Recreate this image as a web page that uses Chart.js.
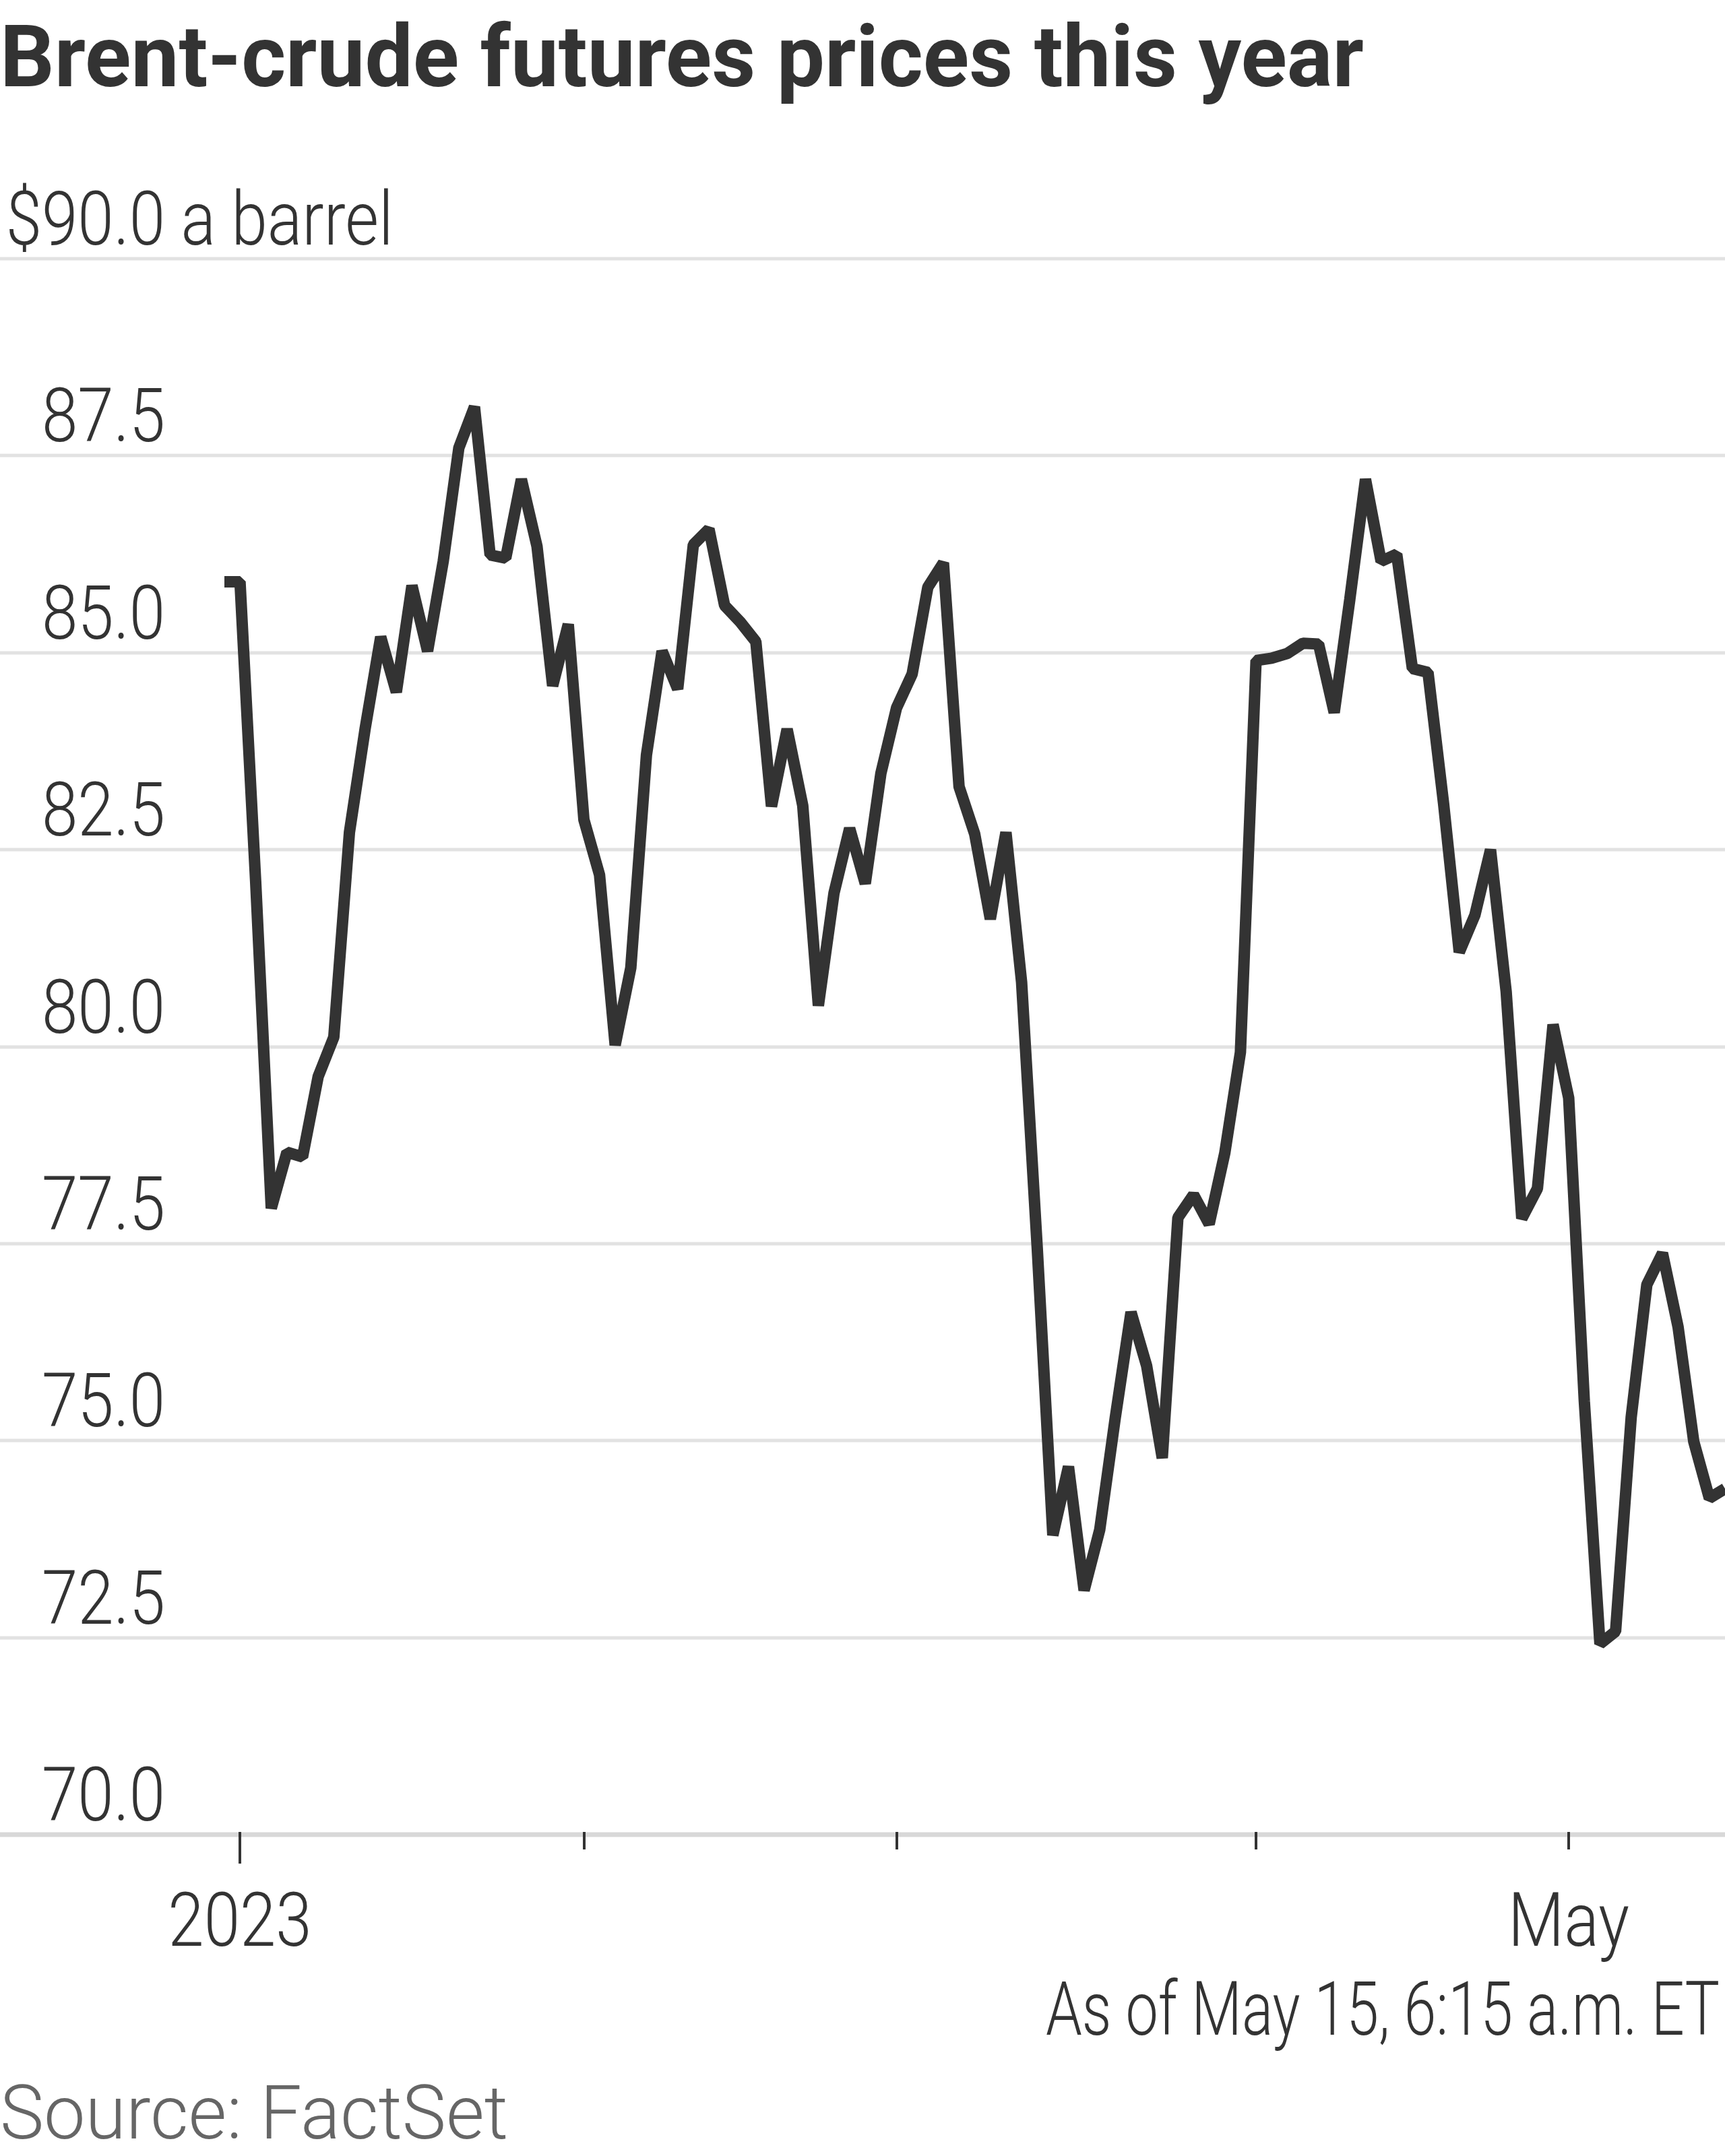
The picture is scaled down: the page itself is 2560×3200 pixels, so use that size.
<!DOCTYPE html>
<html>
<head>
<meta charset="utf-8">
<script src="https://cdn.jsdelivr.net/npm/chart.js@4.4.0/dist/chart.umd.min.js"></script>
<style>
  html, body { margin: 0; padding: 0; background: #fff; }
  #wrap { position: relative; width: 2560px; height: 3200px; }
</style>
</head>
<body>
<div id="wrap"><canvas id="brentChart"></canvas></div>
<script>
// Trading days (weekdays) from the last session of 2022 to May 15
const dates = [
    '2022-12-30',
    '2023-01-02', '2023-01-03', '2023-01-04', '2023-01-05', '2023-01-06',
    '2023-01-09', '2023-01-10', '2023-01-11', '2023-01-12', '2023-01-13',
    '2023-01-16', '2023-01-17', '2023-01-18', '2023-01-19', '2023-01-20',
    '2023-01-23', '2023-01-24', '2023-01-25', '2023-01-26', '2023-01-27',
    '2023-01-30', '2023-01-31',
    '2023-02-01', '2023-02-02', '2023-02-03',
    '2023-02-06', '2023-02-07', '2023-02-08', '2023-02-09', '2023-02-10',
    '2023-02-13', '2023-02-14', '2023-02-15', '2023-02-16', '2023-02-17',
    '2023-02-20', '2023-02-21', '2023-02-22', '2023-02-23', '2023-02-24',
    '2023-02-27', '2023-02-28',
    '2023-03-01', '2023-03-02', '2023-03-03',
    '2023-03-06', '2023-03-07', '2023-03-08', '2023-03-09', '2023-03-10',
    '2023-03-13', '2023-03-14', '2023-03-15', '2023-03-16', '2023-03-17',
    '2023-03-20', '2023-03-21', '2023-03-22', '2023-03-23', '2023-03-24',
    '2023-03-27', '2023-03-28', '2023-03-29', '2023-03-30', '2023-03-31',
    '2023-04-03', '2023-04-04', '2023-04-05', '2023-04-06', '2023-04-07',
    '2023-04-10', '2023-04-11', '2023-04-12', '2023-04-13', '2023-04-14',
    '2023-04-17', '2023-04-18', '2023-04-19', '2023-04-20', '2023-04-21',
    '2023-04-24', '2023-04-25', '2023-04-26', '2023-04-27', '2023-04-28',
    '2023-05-01', '2023-05-02', '2023-05-03', '2023-05-04', '2023-05-05',
    '2023-05-08', '2023-05-09', '2023-05-10', '2023-05-11', '2023-05-12',
    '2023-05-15'
];

// Brent-crude futures, $ a barrel
const prices = [
    85.90,
    85.90, 82.10, 77.95, 78.66, 78.60,
    79.62, 80.12, 82.72, 84.03, 85.20,
    84.50, 85.85, 85.02, 86.16, 87.60,
    88.12, 86.24, 86.20, 87.20, 86.35,
    84.58, 85.36,
    82.88, 82.18, 80.02,
    81.00, 83.70, 85.02, 84.54, 86.37,
    86.57, 85.60, 85.39, 85.14, 83.05,
    84.03, 83.06, 80.52, 81.95, 82.77,
    82.07, 83.47,
    84.30, 84.73, 85.83,
    86.14, 83.30, 82.70, 81.62, 82.72,
    80.82, 77.45, 73.80, 74.67, 73.10,
    73.87, 75.30, 76.63, 75.95, 74.78,
    77.83, 78.12, 77.75, 78.65, 79.93,
    84.90, 84.93, 84.99, 85.12, 85.11,
    84.24, 85.68, 87.20, 86.16, 86.25,
    84.80, 84.75, 83.08, 81.20, 81.67,
    82.50, 80.70, 77.82, 78.20, 80.28,
    79.35, 75.50, 72.42, 72.58, 75.30,
    76.98, 77.38, 76.44, 74.99, 74.27,
    74.39
];

const yTicks = [70, 72.5, 75, 77.5, 80, 82.5, 85, 87.5, 90];
const xTickDates = ['2023-01-02', '2023-02-01', '2023-03-01', '2023-04-03', '2023-05-01'];
const xTickLabels = ['2023', '', '', '', 'May'];

const TEXT = '#333333';

function drawScaled(ctx, text, x, y, font, color, sx, align) {
    ctx.save();
    ctx.font = font;
    ctx.fillStyle = color;
    ctx.textAlign = align || 'left';
    ctx.textBaseline = 'alphabetic';
    ctx.translate(x, y);
    ctx.scale(sx, 1);
    ctx.fillText(text, 0, 0);
    ctx.restore();
}

function fitScale(ctx, text, font, width) {
    ctx.save();
    ctx.font = font;
    const w = ctx.measureText(text).width;
    ctx.restore();
    return width / w;
}

const decor = {
    id: 'decor',
    beforeDatasetsDraw(chart) {
        const { ctx, scales: { y } } = chart;
        ctx.save();
        yTicks.forEach(v => {
            const py = Math.round(y.getPixelForValue(v));
            const isBase = v === yTicks[0];
            ctx.strokeStyle = isBase ? '#d8d8d8' : '#e2e2e2';
            ctx.lineWidth = isBase ? 7 : 5;
            ctx.beginPath();
            ctx.moveTo(0, py);
            ctx.lineTo(chart.width, py);
            ctx.stroke();
        });
        ctx.restore();
    },
    afterDraw(chart) {
        const { ctx, scales: { x, y } } = chart;
        const labelFont = '300 112px Roboto';
        const sx = fitScale(ctx, '87.5', labelFont, 183);

        // y labels sit just above their gridline
        yTicks.forEach(v => {
            const py = y.getPixelForValue(v) - 21;
            const txt = v.toFixed(1);
            if (v === yTicks[yTicks.length - 1]) {
                drawScaled(ctx, '$' + txt, 245, py, labelFont, TEXT, sx, 'right');
                drawScaled(ctx, ' a barrel', 245, py, labelFont, TEXT, sx, 'left');
            } else {
                drawScaled(ctx, txt, 245, py, labelFont, TEXT, sx, 'right');
            }
        });

        // month ticks, the year one longer
        const base = y.getPixelForValue(yTicks[0]);
        ctx.save();
        ctx.strokeStyle = TEXT;
        ctx.lineWidth = 4;
        xTickDates.forEach((d, i) => {
            const px = Math.round(x.getPixelForValue(dates.indexOf(d)));
            ctx.beginPath();
            ctx.moveTo(px, base - 4);
            ctx.lineTo(px, base + (i === 0 ? 43 : 22));
            ctx.stroke();
            if (xTickLabels[i]) {
                drawScaled(ctx, xTickLabels[i], px, 2888, labelFont, TEXT, sx, 'center');
            }
        });
        ctx.restore();

        // title
        const titleFont = '700 128px Roboto';
        const title = 'Brent-crude futures prices this year';
        drawScaled(ctx, title, 0, 128, titleFont, TEXT, fitScale(ctx, title, titleFont, 2024), 'left');

        // notes
        const asOf = 'As of May 15, 6:15 a.m. ET';
        drawScaled(ctx, asOf, 2552, 3020, labelFont, TEXT, fitScale(ctx, asOf, labelFont, 1000), 'right');
        const src = 'Source: FactSet';
        drawScaled(ctx, src, 0, 3174, labelFont, '#666666', fitScale(ctx, src, labelFont, 754), 'left');
    }
};

new Chart(document.getElementById('brentChart'), {
    type: 'line',
    data: {
        labels: dates,
        datasets: [{
            data: prices,
            borderColor: '#333333',
            borderWidth: 17,
            borderJoinStyle: 'bevel',
            pointRadius: 0,
            pointHoverRadius: 0,
            tension: 0,
            fill: false
        }]
    },
    options: {
        responsive: true,
        maintainAspectRatio: false,
        animation: false,
        events: [],
        layout: {
            autoPadding: false,
            padding: { left: 333, right: 0, top: 384, bottom: 477 }
        },
        plugins: {
            legend: { display: false },
            tooltip: { enabled: false }
        },
        scales: {
            x: { type: 'category', display: false, offset: false },
            y: { min: 70, max: 90, display: false }
        }
    },
    plugins: [decor]
});
</script>
</body>
</html>
